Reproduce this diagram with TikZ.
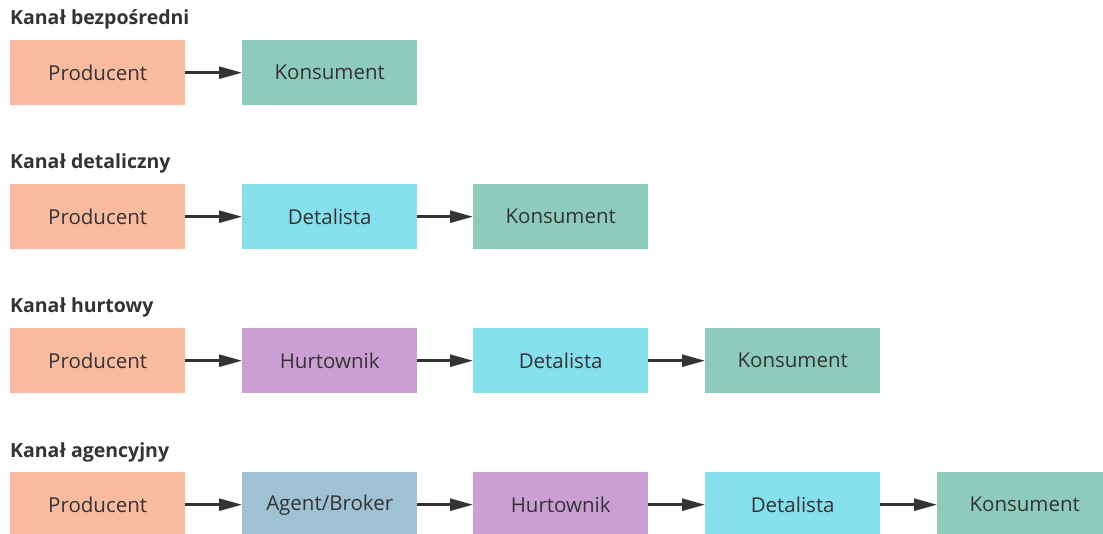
\documentclass[tikz,border=0pt]{standalone}
\usepackage{fontspec}
\setmainfont{Open Sans}
\usepackage{tikz}
\usetikzlibrary{arrows.meta,positioning}

\definecolor{cprod}{HTML}{F9BBA0}
\definecolor{ckons}{HTML}{8FCBBA}
\definecolor{cdet}{HTML}{86DFEC}
\definecolor{churt}{HTML}{CC9FD4}
\definecolor{cagent}{HTML}{9EC1D3}
\definecolor{ctext}{HTML}{333333}

\begin{document}
\begin{tikzpicture}[x=1pt, y=-1pt,
	box/.style={anchor=north west, minimum width=175pt, minimum height=65pt, inner sep=0pt, text=ctext, font=\fontsize{20.5}{24}\selectfont},
	title/.style={anchor=base west, inner sep=0pt, text=ctext, font=\bfseries\fontsize{19.5}{23}\selectfont},
	link/.style={->, line width=2.5pt, ctext},
	>={Triangle[length=23pt, width=12pt]}]
	
	\clip (0,0) rectangle (1103,534);
	\path[use as bounding box] (0,0) rectangle (1103,534);
	
	% Titles
	\node[title] (t1) at (10,25) {Kanał bezpośredni};
	\node[title] (t2) at (10,169) {Kanał detaliczny};
	\node[title] (t3) at (10,313) {Kanał hurtowy};
	\node[title] (t4) at (10,457) {Kanał agencyjny};
	
	% Nodes
	\node[box, fill=cprod] (p1) at (10,40) {Producent};
	\node[box, fill=ckons] (k1) at (242,40) {Konsument};
	
	\node[box, fill=cprod] (p2) at (10,184) {Producent};
	\node[box, fill=cdet] (d2) at (242,184) {Detalista};
	\node[box, fill=ckons] (k2) at (473,184) {Konsument};
	
	\node[box, fill=cprod] (p3) at (10,328) {Producent};
	\node[box, fill=churt] (h3) at (242,328) {Hurtownik};
	\node[box, fill=cdet] (d3) at (473,328) {Detalista};
	\node[box, fill=ckons] (k3) at (705,328) {Konsument};
	
	\node[box, fill=cprod] (p4) at (10,472) {Producent};
	\node[box, fill=cagent] (a4) at (242,472) {Agent/Broker};
	\node[box, fill=churt] (h4) at (473,472) {Hurtownik};
	\node[box, fill=cdet] (d4) at (705,472) {Detalista};
	\node[box, fill=ckons] (k4) at (937,472) {Konsument};
	
	% Arrows
	\draw[link] (p1) -- (k1);
	
	\draw[link] (p2) -- (d2);
	\draw[link] (d2) -- (k2);
	
	\draw[link] (p3) -- (h3);
	\draw[link] (h3) -- (d3);
	\draw[link] (d3) -- (k3);
	
	\draw[link] (p4) -- (a4);
	\draw[link] (a4) -- (h4);
	\draw[link] (h4) -- (d4);
	\draw[link] (d4) -- (k4);
	
\end{tikzpicture}
\end{document}
